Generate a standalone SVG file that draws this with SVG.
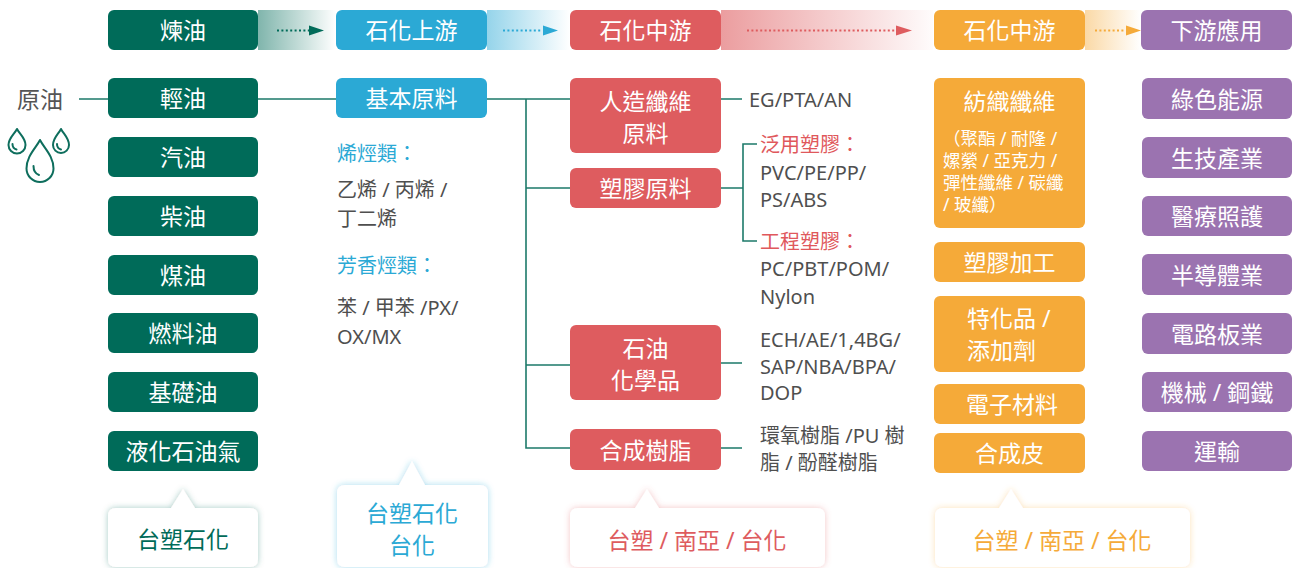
<svg xmlns="http://www.w3.org/2000/svg" width="1296" height="568" viewBox="0 0 1296 568">
<defs>
<style>
text{font-family:"Noto Sans","Noto Sans CJK TC",sans-serif;dominant-baseline:central}
.lbl{font-size:23px;fill:#fff;text-anchor:middle}
.st{text-anchor:start}
.g{fill:#006B59}.b{fill:#2BA9D5}.r{fill:#DE5C5F}.o{fill:#F5AA39}.p{fill:#9B73B0}
.t{font-size:20px;fill:#4F4F4F}
.tr{font-size:20px;fill:#E0585C}
.tb{font-size:20px;fill:#2BA9D5}
.ts{font-size:17.5px;fill:#fff}
.ln{fill:none;stroke:#1D7A6A;stroke-width:1.6}
.drop{fill:none;stroke:#0E6E5D;stroke-width:2;stroke-linejoin:round;stroke-linecap:round}
.call{fill:#fff}
.ct{font-size:23px;text-anchor:middle}
</style>
<linearGradient id="gg" x1="0" x2="1" y1="0" y2="0"><stop offset="0" stop-color="#006B59" stop-opacity="0.5"/><stop offset="1" stop-color="#006B59" stop-opacity="0"/></linearGradient>
<linearGradient id="gb" x1="0" x2="1" y1="0" y2="0"><stop offset="0" stop-color="#2BA9D5" stop-opacity="0.5"/><stop offset="1" stop-color="#2BA9D5" stop-opacity="0"/></linearGradient>
<linearGradient id="gr" x1="0" x2="1" y1="0" y2="0"><stop offset="0" stop-color="#DE5C5F" stop-opacity="0.6"/><stop offset="1" stop-color="#DE5C5F" stop-opacity="0.02"/></linearGradient>
<linearGradient id="go" x1="0" x2="1" y1="0" y2="0"><stop offset="0" stop-color="#F5AA39" stop-opacity="0.45"/><stop offset="1" stop-color="#F5AA39" stop-opacity="0"/></linearGradient>
<filter id="fg" x="-20%" y="-30%" width="140%" height="160%"><feDropShadow dx="0" dy="0" stdDeviation="3" flood-color="#006B59" flood-opacity="0.35"/></filter>
<filter id="fb" x="-20%" y="-30%" width="140%" height="160%"><feDropShadow dx="0" dy="0" stdDeviation="3" flood-color="#2BA9D5" flood-opacity="0.4"/></filter>
<filter id="fr" x="-20%" y="-30%" width="140%" height="160%"><feDropShadow dx="0" dy="0" stdDeviation="3" flood-color="#DE5C5F" flood-opacity="0.35"/></filter>
<filter id="fo" x="-20%" y="-30%" width="140%" height="160%"><feDropShadow dx="0" dy="0" stdDeviation="3" flood-color="#F5AA39" flood-opacity="0.35"/></filter>
</defs>
<rect width="1296" height="568" fill="#fff"/>

<!-- header row -->
<g id="header">
<rect x="258" y="10" width="78" height="40" fill="url(#gg)"/>
<rect x="487" y="10" width="83" height="40" fill="url(#gb)"/>
<rect x="721" y="10" width="212" height="40" fill="url(#gr)"/>
<rect x="1085" y="10" width="56" height="40" fill="url(#go)"/>
<g id="h1"><rect class="g" x="108" y="10" width="150" height="40" rx="6"/><text class="lbl" x="183" y="30">煉油</text></g>
<g id="h2"><rect class="b" x="336" y="10" width="151" height="40" rx="6"/><text class="lbl" x="411.5" y="30">石化上游</text></g>
<g id="h3"><rect class="r" x="570" y="10" width="151" height="40" rx="6"/><text class="lbl" x="645.5" y="30">石化中游</text></g>
<g id="h4"><rect class="o" x="934" y="10" width="151" height="40" rx="6"/><text class="lbl" x="1009.5" y="30">石化中游</text></g>
<g id="h5"><rect class="p" x="1141" y="10" width="151" height="40" rx="6"/><text class="lbl" x="1216.5" y="30">下游應用</text></g>
<g id="harrows" stroke-width="2" stroke-dasharray="2 2.4">
<line x1="277" y1="30.5" x2="309" y2="30.5" stroke="#006B59"/>
<line x1="503" y1="30.5" x2="542" y2="30.5" stroke="#2BA9D5"/>
<line x1="747" y1="30.5" x2="895" y2="30.5" stroke="#DE5C5F"/>
<line x1="1095" y1="30.5" x2="1125" y2="30.5" stroke="#F5AA39"/>
</g>
<polygon points="309,25.5 324,30.5 309,35.5" fill="#006B59"/>
<polygon points="543,25.5 558,30.5 543,35.5" fill="#2BA9D5"/>
<polygon points="896,25.5 912,30.5 896,35.5" fill="#DE5C5F"/>
<polygon points="1126,25.5 1141,30.5 1126,35.5" fill="#F5AA39"/>
</g>

<!-- connectors -->
<g id="connectors">
<path class="ln" d="M79,99 H108 M258,99 H336 M487,99 H570 M526,99 V448 H570 M526,188 H570 M526,365 H570"/>
<path class="ln" d="M721,99 H742 M721,188 H743 M757,144 H743 V241 H757 M721,363 H742 M721,448 H742"/>
</g>

<!-- crude oil -->
<g id="crude">
<text x="40" y="99" font-size="23" fill="#555" text-anchor="middle">原油</text>
<path class="drop" d="M40,140 C44,148 53.5,156 53.5,168.5 A13.5,13.5 0 0 1 26.5,168.5 C26.5,156 36,148 40,140 Z"/>
<path class="drop" d="M33.5,166 Q33.5,173 39,175"/>
<path class="drop" d="M17,129 C19.5,134 25.5,138 25.5,145 A8.5,8.5 0 0 1 8.5,145 C8.5,138 14.5,134 17,129 Z"/>
<path class="drop" d="M12.5,144 Q12.5,148.5 16.5,149.5"/>
<path class="drop" d="M61,129 C63.5,134 69,138 69,145 A8,8 0 0 1 53,145 C53,138 58.5,134 61,129 Z"/>
<path class="drop" d="M57,144 Q57,148.5 61,149.5"/>
</g>

<!-- refining products -->
<g id="n-light"><rect class="g" x="108" y="78" width="150" height="40" rx="6"/><text class="lbl" x="183" y="98">輕油</text></g>
<g id="n-gas"><rect class="g" x="108" y="137" width="150" height="40" rx="6"/><text class="lbl" x="183" y="157">汽油</text></g>
<g id="n-diesel"><rect class="g" x="108" y="196" width="150" height="40" rx="6"/><text class="lbl" x="183" y="216">柴油</text></g>
<g id="n-kero"><rect class="g" x="108" y="255" width="150" height="40" rx="6"/><text class="lbl" x="183" y="275">煤油</text></g>
<g id="n-fuel"><rect class="g" x="108" y="313" width="150" height="40" rx="6"/><text class="lbl" x="183" y="333">燃料油</text></g>
<g id="n-base"><rect class="g" x="108" y="372" width="150" height="40" rx="6"/><text class="lbl" x="183" y="392">基礎油</text></g>
<g id="n-lpg"><rect class="g" x="108" y="431" width="150" height="40" rx="6"/><text class="lbl" x="183" y="451">液化石油氣</text></g>

<!-- upstream -->
<g id="n-basic"><rect class="b" x="336" y="78" width="151" height="40" rx="6"/><text class="lbl" x="411.5" y="98">基本原料</text></g>
<g id="upstream-text">
<text class="tb" x="337" y="153">烯烴類：</text>
<text class="t" x="337" y="189">乙烯 / 丙烯 /</text>
<text class="t" x="337" y="218">丁二烯</text>
<text class="tb" x="337" y="265">芳香烴類：</text>
<text class="t" x="337" y="307">苯 / 甲苯 /PX/</text>
<text class="t" x="337" y="336">OX/MX</text>
</g>

<!-- midstream red -->
<g id="n-fiber-raw"><rect class="r" x="570" y="78" width="151" height="75" rx="6"/><text class="lbl" x="645.5" y="101">人造纖維</text><text class="lbl" x="645.5" y="133">原料</text></g>
<g id="n-plastic-raw"><rect class="r" x="570" y="168" width="151" height="40" rx="6"/><text class="lbl" x="645.5" y="188">塑膠原料</text></g>
<g id="n-petchem"><rect class="r" x="570" y="325" width="151" height="75" rx="6"/><text class="lbl" x="645.5" y="348">石油</text><text class="lbl" x="645.5" y="380">化學品</text></g>
<g id="n-resin"><rect class="r" x="570" y="429" width="151" height="41" rx="6"/><text class="lbl" x="645.5" y="449.5">合成樹脂</text></g>
<g id="mid-text">
<text class="t" x="749" y="99">EG/PTA/AN</text>
<text class="tr" x="760" y="144">泛用塑膠：</text>
<text class="t" x="760" y="172">PVC/PE/PP/</text>
<text class="t" x="760" y="199">PS/ABS</text>
<text class="tr" x="760" y="241">工程塑膠：</text>
<text class="t" x="760" y="268">PC/PBT/POM/</text>
<text class="t" x="760" y="296">Nylon</text>
<text class="t" x="760" y="339">ECH/AE/1,4BG/</text>
<text class="t" x="760" y="366">SAP/NBA/BPA/</text>
<text class="t" x="760" y="392">DOP</text>
<text class="t" x="760" y="435">環氧樹脂 /PU 樹</text>
<text class="t" x="760" y="462">脂 / 酚醛樹脂</text>
</g>

<!-- midstream orange -->
<g id="n-textile"><rect class="o" x="934" y="78" width="151" height="150" rx="6"/><text class="lbl" x="1009.5" y="101">紡織纖維</text>
<text class="ts" x="943" y="137.5">（聚酯 / 耐隆 /</text>
<text class="ts" x="943" y="159.5">嫘縈 / 亞克力 /</text>
<text class="ts" x="943" y="181.5">彈性纖維 / 碳纖</text>
<text class="ts" x="943" y="203.5">/ 玻纖）</text></g>
<g id="n-plastic-proc"><rect class="o" x="934" y="242" width="151" height="40" rx="6"/><text class="lbl" x="1009.5" y="262">塑膠加工</text></g>
<g id="n-special"><rect class="o" x="934" y="296" width="151" height="76" rx="6"/><text class="lbl st" x="967" y="318">特化品 /</text><text class="lbl st" x="967" y="350">添加劑</text></g>
<g id="n-elec"><rect class="o" x="934" y="384" width="151" height="40" rx="6"/><text class="lbl" x="1012" y="404">電子材料</text></g>
<g id="n-leather"><rect class="o" x="934" y="433" width="151" height="40" rx="6"/><text class="lbl" x="1009.5" y="453">合成皮</text></g>

<!-- downstream -->
<g id="d1"><rect class="p" x="1142" y="78" width="150" height="41" rx="6"/><text class="lbl" x="1217" y="98.5">綠色能源</text></g>
<g id="d2"><rect class="p" x="1142" y="137" width="150" height="41" rx="6"/><text class="lbl" x="1217" y="157.5">生技產業</text></g>
<g id="d3"><rect class="p" x="1142" y="196" width="150" height="40" rx="6"/><text class="lbl" x="1217" y="216">醫療照護</text></g>
<g id="d4"><rect class="p" x="1142" y="254" width="150" height="41" rx="6"/><text class="lbl" x="1217" y="274.5">半導體業</text></g>
<g id="d5"><rect class="p" x="1142" y="313" width="150" height="41" rx="6"/><text class="lbl" x="1217" y="333.5">電路板業</text></g>
<g id="d6"><rect class="p" x="1142" y="372" width="150" height="40" rx="6"/><text class="lbl" x="1217" y="392">機械 / 鋼鐵</text></g>
<g id="d7"><rect class="p" x="1142" y="431" width="150" height="40" rx="6"/><text class="lbl" x="1217" y="451">運輸</text></g>

<!-- callouts -->
<g id="c-green"><path class="call" filter="url(#fg)" d="M116,508 H171 L183,489 L195,508 H250 Q258,508 258,516 V559 Q258,567 250,567 H116 Q108,567 108,559 V516 Q108,508 116,508 Z"/><text class="ct g" x="183" y="539">台塑石化</text></g>
<g id="c-blue"><path class="call" filter="url(#fb)" d="M345,485 H399 L412,461 L425,485 H480 Q488,485 488,493 V559 Q488,567 480,567 H345 Q337,567 337,559 V493 Q337,485 345,485 Z"/><text class="ct b" x="412" y="513">台塑石化</text><text class="ct b" x="412" y="545">台化</text></g>
<g id="c-red"><path class="call" filter="url(#fr)" d="M578,508 H635 L647,489 L659,508 H817 Q825,508 825,516 V559 Q825,567 817,567 H578 Q570,567 570,559 V516 Q570,508 578,508 Z"/><text class="ct r" x="697" y="540">台塑 / 南亞 / 台化</text></g>
<g id="c-orange"><path class="call" filter="url(#fo)" d="M943,508 H999 L1011,489 L1023,508 H1182 Q1190,508 1190,516 V559 Q1190,567 1182,567 H943 Q935,567 935,559 V516 Q935,508 943,508 Z"/><text class="ct o" x="1062" y="540">台塑 / 南亞 / 台化</text></g>
</svg>
